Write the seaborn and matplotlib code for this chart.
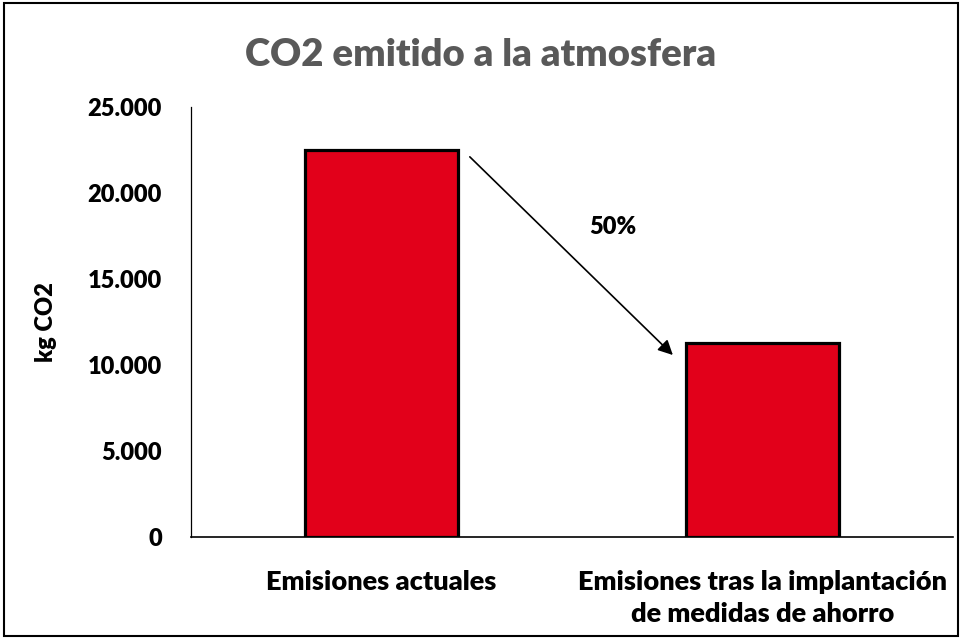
import matplotlib
matplotlib.use("Agg")
import matplotlib.pyplot as plt
import seaborn as sns
import pandas as pd
from matplotlib.patches import Rectangle
from matplotlib.ticker import FuncFormatter

categories = ["Emisiones actuales", "Emisiones tras la implantación\nde medidas de ahorro"]
values = [22500, 11250]
yticks = [0, 5000, 10000, 15000, 20000, 25000]
title = "CO2 emitido a la atmosfera"
ylabel = "kg CO2"
reduction_label = "50%"

sns.set_theme(style="white")
plt.rcParams['font.family'] = ['Lato', 'DejaVu Sans']

df = pd.DataFrame({"cat": categories, "val": values})

fig = plt.figure(figsize=(9.62, 6.39), dpi=100)
ax = fig.add_axes([0.1985, 0.1596, 0.792, 0.673])

sns.barplot(data=df, x="cat", y="val", ax=ax, color="#E2001A", saturation=1,
            width=0.4, edgecolor="black", linewidth=2.3)

ax.set_xlim(-0.5, 1.5)
ax.set_ylim(0, 25000)
ax.set_yticks(yticks)
ax.yaxis.set_major_formatter(FuncFormatter(lambda v, p: f"{int(v):,}".replace(",", ".")))
ax.tick_params(axis="both", length=0, colors="black")
ax.tick_params(axis="y", pad=21, labelsize=17)
ax.tick_params(axis="x", pad=24, labelsize=19.5)
for lab in ax.get_xticklabels() + ax.get_yticklabels():
    lab.set_fontweight("heavy")
for lab in ax.get_xticklabels():
    lab.set_linespacing(1.4)

ax.set_xlabel("")
ax.set_ylabel(ylabel, fontsize=17, fontweight="heavy", color="black", labelpad=22)

for side in ["top", "right"]:
    ax.spines[side].set_visible(False)
ax.spines["left"].set_color("black")
ax.spines["left"].set_linewidth(0.9)
ax.spines["bottom"].set_color("black")
ax.spines["bottom"].set_linewidth(1.2)

fig.suptitle(title, x=0.5, y=0.94, fontsize=27.5, fontweight="heavy", color="#595959")

ax.annotate("", xy=(0.765, 10580), xytext=(0.232, 22100),
            arrowprops=dict(arrowstyle="-|>", color="black", lw=1.2,
                            mutation_scale=22, shrinkA=0, shrinkB=0))
ax.text(0.608, 18020, reduction_label, ha="center", va="center",
        fontsize=17, fontweight="heavy", color="black")

fig.patches.append(Rectangle((0.004, 0.004), 0.992, 0.992, transform=fig.transFigure,
                             fill=False, edgecolor="black", linewidth=1.5))

fig.savefig("out.png", dpi=100)
